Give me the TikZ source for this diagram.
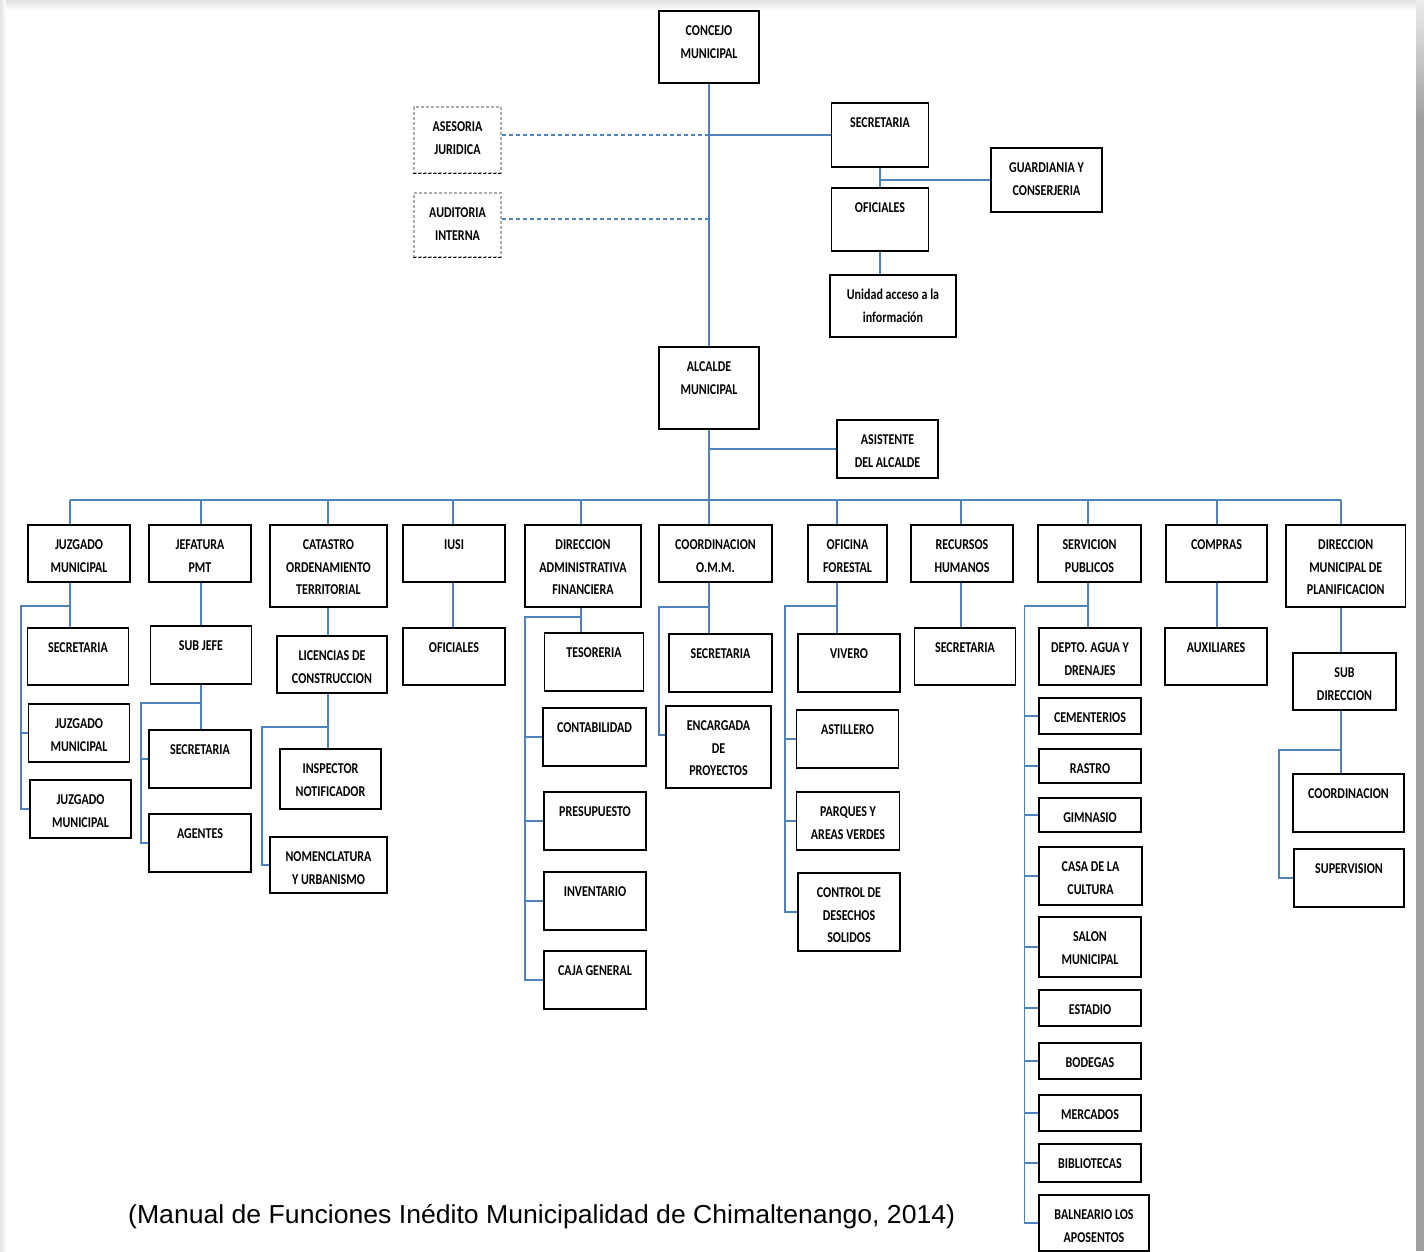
\documentclass[tikz,border=0pt]{standalone}
\usepackage{fontspec}
\usepackage{graphicx}

\newfontfamily\boxfont[FakeStretch=0.8]{Carlito}
\newfontfamily\capfont{Liberation Sans}
\definecolor{linkblue}{RGB}{79,129,189}

% box text: width, height, lines
\newcommand{\boxtext}[3]{\parbox[t][#2pt][t]{#1pt}{\centering\rule{0pt}{25pt}#3}}

\tikzset{
  unit/.style={draw=black, line width=1.6pt, anchor=north, inner sep=0pt,
    font=\boxfont\bfseries\fontsize{15}{22.5}\selectfont},
  aside/.style={unit, draw=gray!65, dash pattern=on 3pt off 2pt},
  link/.style={draw=linkblue, line width=1.6pt},
  dashlink/.style={link, dash pattern=on 4pt off 3pt}
}

\begin{document}
\begin{tikzpicture}[x=1pt,y=-1pt]
			\useasboundingbox (0,0) rectangle (1424,1251);
			\fill[white] (0,0) rectangle (1424,1251);
			\shade[top color=gray!25, bottom color=white] (0,0) rectangle (1416,10);
			\shade[left color=gray!20, right color=white] (0,0) rectangle (6,1251);
			\fill[gray!75] (1416,0) rectangle (1424,1251);
			\shade[top color=gray!15, bottom color=gray!75] (1416,0) rectangle (1424,120);

			% top level
			\node[unit] (cm) at (709,10) {\boxtext{100}{72}{CONCEJO\\MUNICIPAL}};
			\node[aside] (aj) at (457.5,106) {\boxtext{87}{66}{ASESORIA\\JURIDICA}};
			\node[aside] (ai) at (457.5,192) {\boxtext{87}{64}{AUDITORIA\\INTERNA}};
			\node[unit] (sc) at (880,102) {\boxtext{97}{64}{SECRETARIA}};
			\node[unit] (of) at (880,187) {\boxtext{97}{63}{OFICIALES}};
			\node[unit] (gc) at (1046.5,147) {\boxtext{111}{64}{GUARDIANIA Y\\CONSERJERIA}};
			\node[unit] (ua) at (893,274) {\boxtext{126}{62}{Unidad acceso a la\\información}};
			\node[unit] (am) at (709,346) {\boxtext{100}{82}{ALCALDE\\MUNICIPAL}};
			\node[unit] (aa) at (887.5,419) {\boxtext{101}{58}{ASISTENTE\\DEL ALCALDE}};

			\draw[black, dash pattern=on 3pt off 2pt, line width=1.6pt] (aj.south west) -- (aj.south east);
			\draw[black, dash pattern=on 3pt off 2pt, line width=1.6pt] (ai.south west) -- (ai.south east);

			\draw[link] (cm.south) -- (cm.south |- am.north);
			\draw[link] (sc.west) -- (sc.west -| cm.south);
			\draw[dashlink] (aj.east |- sc.west) -- (cm.south |- sc.west);
			\draw[dashlink] ([yshift=6pt]ai.east) -- ([yshift=6pt]ai.east -| cm.south);
			\draw[link] (sc.south) -- (of.north);
			\draw[link] (gc.west) -- (gc.west -| sc.south);
			\draw[link] (of.south) -- (of.south |- ua.north);
			\draw[link] (aa.west) -- (aa.west -| am.south);

			% bus and drops
			\coordinate (c1) at (70,500);
			\coordinate (c2) at (201,500);
			\coordinate (c3) at (328,500);
			\coordinate (c4) at (453,500);
			\coordinate (c5) at (581,500);
			\coordinate (c6) at (709,500);
			\coordinate (c7) at (837,500);
			\coordinate (c8) at (961,500);
			\coordinate (c9) at (1088,500);
			\coordinate (c10) at (1217,500);
			\coordinate (c11) at (1341,500);

			\node[unit] (jm) at (79,524) {\boxtext{102}{57}{JUZGADO\\MUNICIPAL}};
			\node[unit] (jp) at (200,524) {\boxtext{102}{57}{JEFATURA\\PMT}};
			\node[unit] (ct) at (328.5,524) {\boxtext{117}{82}{CATASTRO\\ORDENAMIENTO\\TERRITORIAL}};
			\node[unit] (iu) at (454,524) {\boxtext{102}{57}{IUSI}};
			\node[unit] (da) at (583,524) {\boxtext{116}{82}{DIRECCION\\ADMINISTRATIVA\\FINANCIERA}};
			\node[unit] (om) at (715.5,524) {\boxtext{113}{57}{COORDINACION\\O.M.M.}};
			\node[unit] (fo) at (847.5,524) {\boxtext{79}{57}{OFICINA\\FORESTAL}};
			\node[unit] (rh) at (962,524) {\boxtext{102}{57}{RECURSOS\\HUMANOS}};
			\node[unit] (sp) at (1089.5,524) {\boxtext{103}{57}{SERVICION\\PUBLICOS}};
			\node[unit] (co) at (1216.5,524) {\boxtext{101}{57}{COMPRAS}};
			\node[unit] (dm) at (1345.75,524) {\boxtext{119.5}{82}{DIRECCION\\MUNICIPAL DE\\PLANIFICACION}};

			\draw[link] (c1) -- (c11);
			\draw[link] (am.south) -- (am.south |- om.north);
			\draw[link] (c1) -- (c1 |- jm.north);
			\draw[link] (c2) -- (c2 |- jp.north);
			\draw[link] (c3) -- (c3 |- ct.north);
			\draw[link] (c4) -- (c4 |- iu.north);
			\draw[link] (c5) -- (c5 |- da.north);
			\draw[link] (c7) -- (c7 |- fo.north);
			\draw[link] (c8) -- (c8 |- rh.north);
			\draw[link] (c9) -- (c9 |- sp.north);
			\draw[link] (c10) -- (c10 |- co.north);
			\draw[link] (c11) -- (c11 |- dm.north);

			% juzgado
			\node[unit] (jm1) at (78,627) {\boxtext{101}{57}{SECRETARIA}};
			\node[unit] (jm2) at (79,703) {\boxtext{101}{58}{JUZGADO\\MUNICIPAL}};
			\node[unit] (jm3) at (80.5,779) {\boxtext{101}{58}{JUZGADO\\MUNICIPAL}};
			\coordinate (p1) at (21,606);
			\draw[link] (c1 |- jm.south) -- (c1 |- jm1.north);
			\draw[link] (c1 |- p1) -- (p1) |- (jm3.west);
			\draw[link] (p1 |- jm2.west) -- (jm2.west);

			% jefatura
			\node[unit] (sj) at (201,625) {\boxtext{101}{58}{SUB JEFE}};
			\node[unit] (js) at (200,729) {\boxtext{102}{58}{SECRETARIA}};
			\node[unit] (ag) at (200,813) {\boxtext{102}{58}{AGENTES}};
			\coordinate (p2) at (141,703);
			\draw[link] (c2 |- jp.south) -- (c2 |- sj.north);
			\draw[link] (c2 |- sj.south) -- (c2 |- js.north);
			\draw[link] (c2 |- p2) -- (p2) |- (ag.west);
			\draw[link] (p2 |- js.west) -- (js.west);

			% catastro
			\node[unit] (lc) at (332,635) {\boxtext{110}{57}{LICENCIAS DE\\CONSTRUCCION}};
			\node[unit] (in) at (330.5,748) {\boxtext{101}{60}{INSPECTOR\\NOTIFICADOR}};
			\node[unit] (nu) at (328.5,836) {\boxtext{117}{56}{NOMENCLATURA\\Y URBANISMO}};
			\coordinate (p3) at (262,727);
			\draw[link] (c3 |- ct.south) -- (c3 |- lc.north);
			\draw[link] (c3 |- lc.south) -- (c3 |- in.north);
			\draw[link] (c3 |- p3) -- (p3) |- (nu.west);

			% iusi
			\node[unit] (io) at (454,627) {\boxtext{102}{57}{OFICIALES}};
			\draw[link] (c4 |- iu.south) -- (c4 |- io.north);

			% direccion administrativa
			\node[unit] (ts) at (594,632) {\boxtext{99}{58}{TESORERIA}};
			\node[unit] (cb) at (594.5,707) {\boxtext{103}{58}{CONTABILIDAD}};
			\node[unit] (pr) at (595,791) {\boxtext{101.5}{58}{PRESUPUESTO}};
			\node[unit] (iv) at (595,871) {\boxtext{102}{58}{INVENTARIO}};
			\node[unit] (cg) at (595,950) {\boxtext{102}{58}{CAJA GENERAL}};
			\coordinate (p5) at (525,617);
			\draw[link] (c5 |- da.south) -- (c5 |- ts.north);
			\draw[link] (c5 |- p5) -- (p5) |- (cg.west);
			\draw[link] (p5 |- cb.west) -- (cb.west);
			\draw[link] (p5 |- pr.west) -- (pr.west);
			\draw[link] (p5 |- iv.west) -- (iv.west);

			% coordinacion omm
			\node[unit] (os) at (720.5,633) {\boxtext{103}{58}{SECRETARIA}};
			\node[unit] (ep) at (718.5,705) {\boxtext{105}{82}{ENCARGADA\\DE\\PROYECTOS}};
			\coordinate (p6) at (659,607);
			\draw[link] (c6 |- om.south) -- (c6 |- os.north);
			\draw[link] (c6 |- p6) -- (p6) |- ([yshift=12pt]ep.west);

			% oficina forestal
			\node[unit] (vv) at (849,633) {\boxtext{101.5}{58}{VIVERO}};
			\node[unit] (as) at (847.5,709) {\boxtext{102}{58}{ASTILLERO}};
			\node[unit] (pa) at (848,791) {\boxtext{103}{58}{PARQUES Y\\AREAS VERDES}};
			\node[unit] (cd) at (849,872) {\boxtext{101.5}{78}{CONTROL DE\\DESECHOS\\SOLIDOS}};
			\coordinate (p7) at (785,606);
			\draw[link] (c7 |- fo.south) -- (c7 |- vv.north);
			\draw[link] (c7 |- p7) -- (p7) |- (cd.west);
			\draw[link] (p7 |- as.west) -- (as.west);
			\draw[link] (p7 |- pa.west) -- (pa.west);

			% recursos humanos
			\node[unit] (rs) at (965,627) {\boxtext{101}{57}{SECRETARIA}};
			\draw[link] (c8 |- rh.south) -- (c8 |- rs.north);

			% servicios publicos
			\node[unit] (dp) at (1090,627) {\boxtext{102}{57}{DEPTO. AGUA Y\\DRENAJES}};
			\node[unit] (ce) at (1090,697) {\boxtext{102}{36}{CEMENTERIOS}};
			\node[unit] (ra) at (1090,748) {\boxtext{102}{34}{RASTRO}};
			\node[unit] (gi) at (1090,797) {\boxtext{102}{34}{GIMNASIO}};
			\node[unit] (cc) at (1090.5,846) {\boxtext{103}{58}{CASA DE LA\\CULTURA}};
			\node[unit] (sm) at (1090,916) {\boxtext{102}{60}{SALON\\MUNICIPAL}};
			\node[unit] (es) at (1090,989) {\boxtext{102}{36}{ESTADIO}};
			\node[unit] (bo) at (1090,1042) {\boxtext{102}{36}{BODEGAS}};
			\node[unit] (me) at (1090,1094) {\boxtext{102}{36}{MERCADOS}};
			\node[unit] (bi) at (1090,1143) {\boxtext{102}{38}{BIBLIOTECAS}};
			\node[unit] (ba) at (1094,1194) {\boxtext{110}{56}{BALNEARIO LOS\\APOSENTOS}};
			\coordinate (p9) at (1024.5,606);
			\draw[link] (c9 |- sp.south) -- (c9 |- dp.north);
			\draw[link] (c9 |- p9) -- (p9) |- (ba.west);
			\draw[link] (p9 |- ce.west) -- (ce.west);
			\draw[link] (p9 |- ra.west) -- (ra.west);
			\draw[link] (p9 |- gi.west) -- (gi.west);
			\draw[link] (p9 |- cc.west) -- (cc.west);
			\draw[link] (p9 |- sm.west) -- (sm.west);
			\draw[link] (p9 |- es.west) -- (es.west);
			\draw[link] (p9 |- bo.west) -- (bo.west);
			\draw[link] (p9 |- me.west) -- (me.west);
			\draw[link] (p9 |- bi.west) -- (bi.west);

			% compras
			\node[unit] (au) at (1216,627) {\boxtext{102}{57}{AUXILIARES}};
			\draw[link] (c10 |- co.south) -- (c10 |- au.north);

			% planificacion
			\node[unit] (sd) at (1344.5,652) {\boxtext{103}{57}{SUB\\DIRECCION}};
			\node[unit] (cn) at (1348.5,773) {\boxtext{111}{58}{COORDINACION}};
			\node[unit] (sv) at (1349,848) {\boxtext{110}{58}{SUPERVISION}};
			\coordinate (p11) at (1279,750);
			\draw[link] (c11 |- dm.south) -- (c11 |- sd.north);
			\draw[link] (c11 |- sd.south) -- (c11 |- cn.north);
			\draw[link] (c11 |- p11) -- (p11) |- (sv.west);

			% source
			\node[anchor=base west, inner sep=0pt] (src) at (128,1223)
			  {\capfont\fontsize{26}{26}\selectfont\resizebox{827pt}{\height}{(Manual de Funciones Inédito Municipalidad de Chimaltenango, 2014)}};
		\end{tikzpicture}
\end{document}
